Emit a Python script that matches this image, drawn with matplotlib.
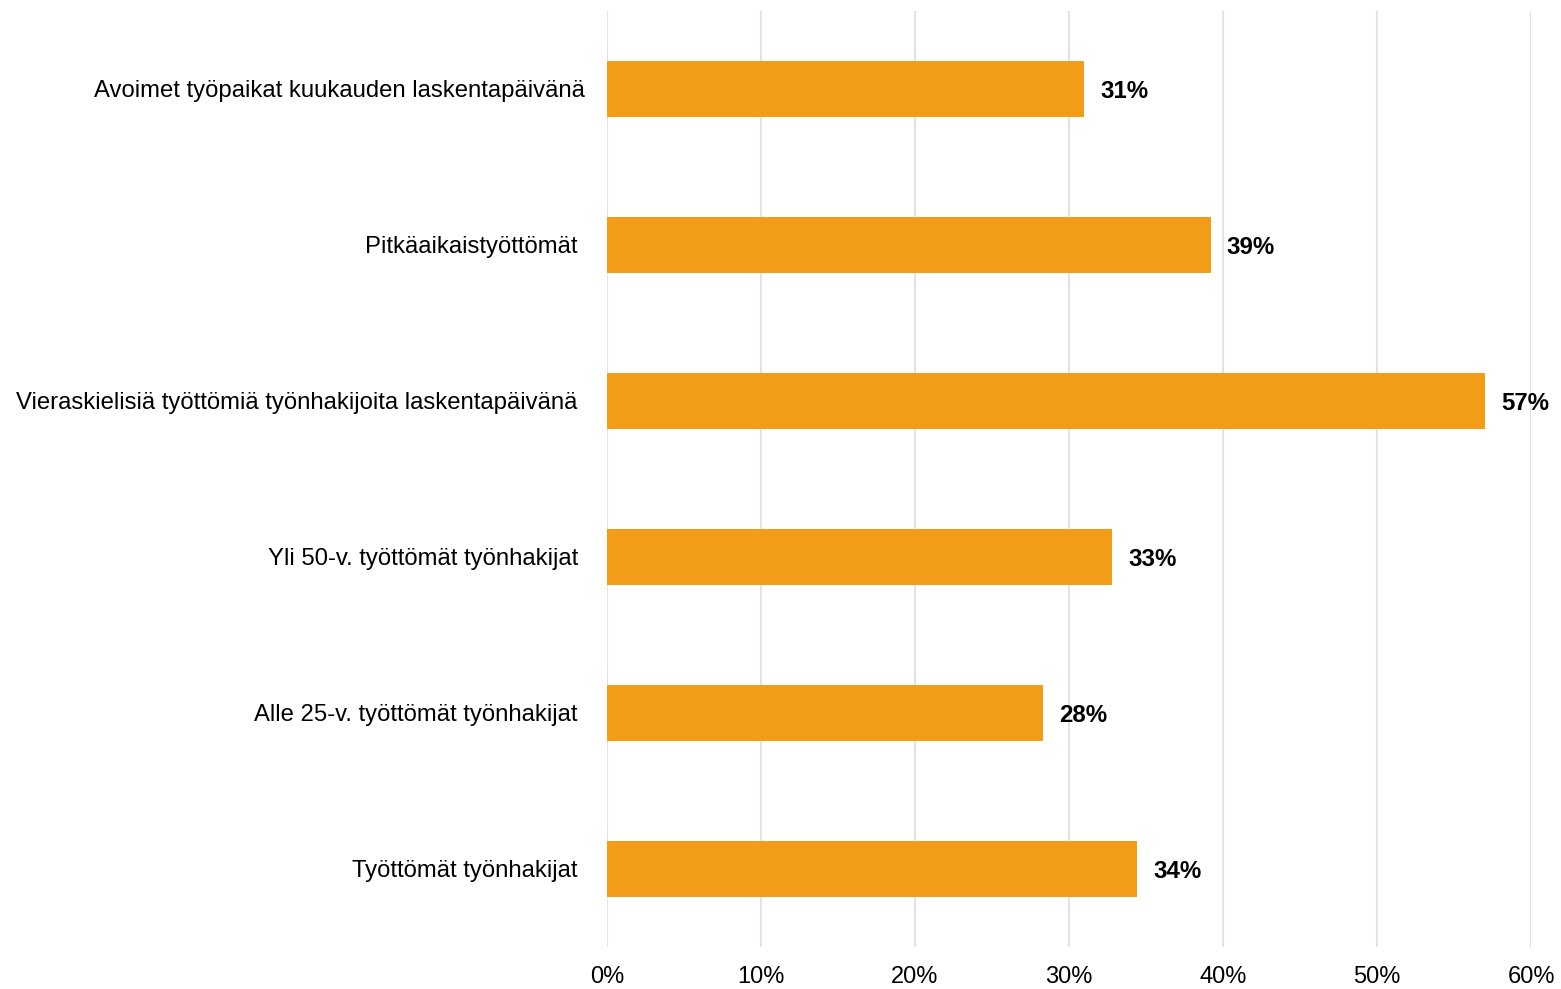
import matplotlib
matplotlib.use('Agg')
import matplotlib.pyplot as plt
import matplotlib.transforms as mtrans
from matplotlib.ticker import FuncFormatter

categories = [
    'Avoimet työpaikat kuukauden laskentapäivänä',
    'Pitkäaikaistyöttömät',
    'Vieraskielisiä työttömiä työnhakijoita laskentapäivänä',
    'Yli 50-v. työttömät työnhakijat',
    'Alle 25-v. työttömät työnhakijat',
    'Työttömät työnhakijat',
]
values = [31.0, 39.2, 57.0, 32.8, 28.3, 34.4]
xticks = [0, 10, 20, 30, 40, 50, 60]

plt.rcParams['font.family'] = ['Liberation Sans', 'DejaVu Sans']

fig = plt.figure(figsize=(15.61, 9.89), dpi=100)
ax = fig.add_axes([607 / 1561, 1 - 947 / 989, (1531 - 607) / 1561, (947 - 11) / 989])

pos = list(range(len(categories)))[::-1]
ax.barh(pos, values, height=0.355, color='#F39C18', zorder=3)

for p, v in zip(pos, values):
    ax.text(v + 1.05, p, '%d%%' % round(v), va='center_baseline', ha='left',
            fontsize=17.3, fontweight='bold', color='black')

ax.set_yticks(pos)
ax.set_yticklabels(categories, fontsize=17.2)
ax.set_xticks(xticks)
ax.xaxis.set_major_formatter(FuncFormatter(lambda x, _: '%d%%' % x))
ax.tick_params(axis='x', labelsize=17, length=0, pad=14)
ax.tick_params(axis='y', length=0, pad=21)
ax.set_xlim(0, 60)
ax.set_ylim(-0.5, 5.5)
ax.grid(axis='x', color='#E3E3E3', linewidth=1.5, zorder=0)
for s in ax.spines.values():
    s.set_visible(False)

# top label sits a bit closer to the axis in the original
lab = ax.get_yticklabels()[0]
lab.set_transform(lab.get_transform() + mtrans.ScaledTranslation(7 / 100, 0, fig.dpi_scale_trans))

fig.savefig('out.png', dpi=100)
